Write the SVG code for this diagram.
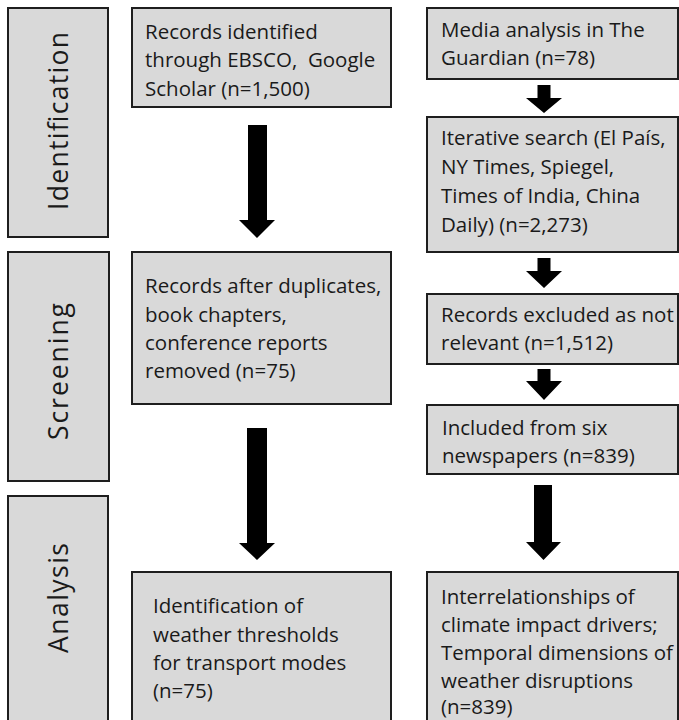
<svg xmlns="http://www.w3.org/2000/svg" width="679" height="720" viewBox="0 0 679 720">
<defs>
<style>
.box{fill:#d9d9d9;stroke:#1e1e1e;stroke-width:2}
.t{font-family:"Open Sans","Noto Sans","DejaVu Sans",sans-serif;font-size:20.5px;fill:#1a1a1a;white-space:pre}
.lbl{font-family:"Open Sans","Noto Sans","DejaVu Sans",sans-serif;font-size:26.5px;fill:#1a1a1a;text-anchor:middle}
.arrow{fill:#000}
</style>
</defs>
<rect width="679" height="720" fill="#fff"/>
<g id="stage-identification">
<rect class="box" x="8" y="8" width="100" height="229"/>
<text class="lbl" transform="translate(68,121) rotate(-90)" textLength="178" lengthAdjust="spacing">Identification</text>
</g>
<g id="stage-screening">
<rect class="box" x="8" y="252" width="101" height="229"/>
<text class="lbl" transform="translate(68,371.5) rotate(-90)" textLength="137" lengthAdjust="spacing">Screening</text>
</g>
<g id="stage-analysis">
<rect class="box" x="8" y="496" width="100" height="232"/>
<text class="lbl" transform="translate(68,598) rotate(-90)" textLength="110" lengthAdjust="spacing">Analysis</text>
</g>
<g id="records-identified">
<rect class="box" x="132" y="8" width="259" height="99"/>
<text class="t" x="145" y="39">Records identified</text>
<text class="t" x="145" y="67">through EBSCO,  Google</text>
<text class="t" x="145" y="96">Scholar (n=1,500)</text>
</g>
<g id="records-after-duplicates">
<rect class="box" x="132" y="252" width="259" height="152"/>
<text class="t" x="145" y="293">Records after duplicates,</text>
<text class="t" x="145" y="322">book chapters,</text>
<text class="t" x="145" y="350">conference reports</text>
<text class="t" x="145" y="378">removed (n=75)</text>
</g>
<g id="weather-thresholds">
<rect class="box" x="132" y="572" width="259" height="160"/>
<text class="t" x="153" y="613">Identification of</text>
<text class="t" x="153" y="642">weather thresholds</text>
<text class="t" x="153" y="670">for transport modes</text>
<text class="t" x="153" y="698">(n=75)</text>
</g>
<g id="media-analysis">
<rect class="box" x="427" y="8" width="251" height="71"/>
<text class="t" x="441" y="37">Media analysis in The</text>
<text class="t" x="441" y="65">Guardian (n=78)</text>
</g>
<g id="iterative-search">
<rect class="box" x="427" y="117" width="251" height="135"/>
<text class="t" x="441" y="145">Iterative search (El País,</text>
<text class="t" x="441" y="174">NY Times, Spiegel,</text>
<text class="t" x="441" y="203">Times of India, China</text>
<text class="t" x="441" y="232">Daily) (n=2,273)</text>
</g>
<g id="records-excluded">
<rect class="box" x="427" y="294" width="251" height="70"/>
<text class="t" x="441" y="322">Records excluded as not</text>
<text class="t" x="441" y="350">relevant (n=1,512)</text>
</g>
<g id="included-newspapers">
<rect class="box" x="427" y="405" width="251" height="69"/>
<text class="t" x="442" y="435">Included from six</text>
<text class="t" x="442" y="463">newspapers (n=839)</text>
</g>
<g id="interrelationships">
<rect class="box" x="427" y="572" width="251" height="160"/>
<text class="t" x="441" y="604">Interrelationships of</text>
<text class="t" x="441" y="632">climate impact drivers;</text>
<text class="t" x="441" y="660">Temporal dimensions of</text>
<text class="t" x="441" y="688">weather disruptions</text>
<text class="t" x="441" y="714">(n=839)</text>
</g>
<g id="connectors">
<polygon class="arrow" points="248,125 267,125 267,220 275,220 257,238 239,220 248,220"/>
<polygon class="arrow" points="247,428 267,428 267,543 275,543 257,560 239,543 247,543"/>
<polygon class="arrow" points="537.5,85 550.5,85 550.5,98 562,98 544,113 526,98 537.5,98"/>
<polygon class="arrow" points="537.5,258 550.5,258 550.5,271 562,271 544,288 526,271 537.5,271"/>
<polygon class="arrow" points="537.5,369 550.5,369 550.5,381 562,381 544,400 526,381 537.5,381"/>
<polygon class="arrow" points="534,485 552,485 552,542 561,542 543.5,560 526,542 534,542"/>
</g>
</svg>
